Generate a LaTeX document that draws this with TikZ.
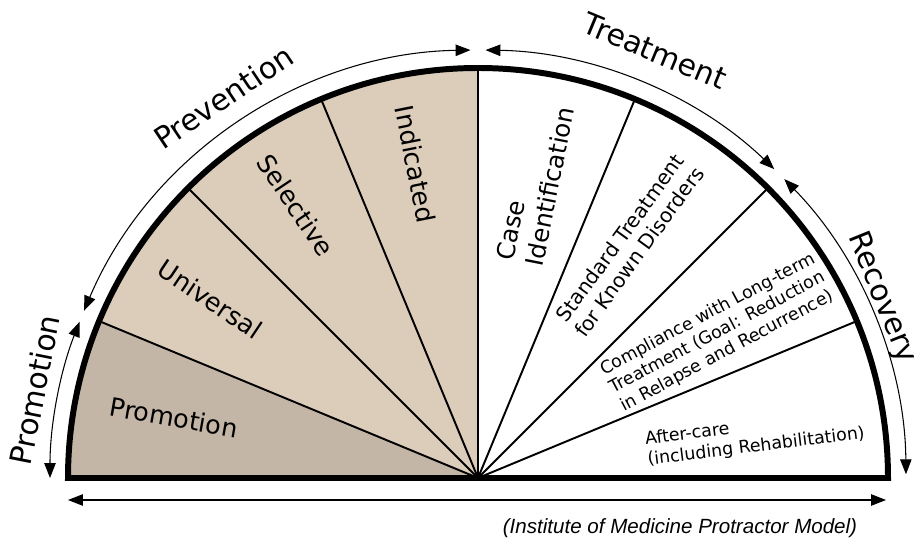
\documentclass[tikz,border=0pt]{standalone}
\usepackage{fontspec}
\setmainfont{DejaVu Sans}
\newfontfamily\capfont{Liberation Sans}
\usetikzlibrary{arrows.meta}

\definecolor{promofill}{RGB}{196,182,166}
\definecolor{prevfill}{RGB}{220,205,187}

\tikzset{
	sector/.style={font=\fontsize{14.5}{17}\selectfont},
	small sector/.style={font=\fontsize{11.5}{13.5}\selectfont, align=center},
	tiny sector/.style={font=\fontsize{9.9}{11.8}\selectfont, align=center},
	phase/.style={font=\fontsize{17}{20}\selectfont},
	span/.style={line width=0.6pt, {Triangle[length=8.5pt,width=6.5pt]}-{Triangle[length=8.5pt,width=6.5pt]}},
}

\begin{document}
\begin{tikzpicture}[x=0.2mm,y=0.2mm]
			\useasboundingbox (-478,-64) rectangle (436,478);
			
			\fill[promofill] (0,0) -- (180:410) arc (180:157.5:410) -- cycle;
			\fill[prevfill] (0,0) -- (157.5:410) arc (157.5:90:410) -- cycle;
			\foreach \a in {22.5,45,...,157.5}
				\draw[line width=1.1pt] (0,0) -- (\a:410);
			\draw[line width=3.4pt] (-410,0) arc (180:0:410) -- cycle;
			
			\node (promo) [sector, rotate=-10] at (168.75:310) {Promotion};
			\node (univ) [sector, rotate=-33.75] at (146.25:322) {Universal};
			\node (sel) [sector, rotate=-56.25] at (123.75:328) {Selective};
			\node (ind) [sector, rotate=-78.75] at (101.25:320) {Indicated};
			\node (case) [sector, font=\fontsize{14}{17}\selectfont, align=left, rotate=78.75] at (79:300) {Case\\Identification};
			\node (std) [small sector, rotate=54] at (57:278) {Standard Treatment\\for Known Disorders};
			\node (comp) [tiny sector, rotate=28] at (31.2:280) {Compliance with Long-term\\Treatment (Goal: Reduction\\in Relapse and Recurrence)};
			\node (after) [tiny sector, align=left, rotate=7] at (8.5:280) {After-care\\(including Rehabilitation)};
			
			\node (promotion) [phase, rotate=78.75] at (168.75:452) {Promotion};
			\node (prevention) [phase, rotate=33.75] at (123.75:458) {Prevention};
			\node (treatment) [phase, rotate=-22.5] at (67.5:462) {Treatment};
			\node (recovery) [phase, rotate=-68] at (24:442) {Recovery};
			
			\draw[span] (180:428) arc (180:158.6:428);
			\draw[span] (157:428) arc (157:91:428);
			\draw[span] (89:428) arc (89:46.2:428);
			\draw[span] (44.3:428) arc (44.3:0.5:428);
			
			\coordinate (left end) at (-410,-22);
			\coordinate (right end) at (408,-22);
			\draw[span] (left end) -- (right end);
			
			\node (model) at (202,-50) {\capfont\itshape\fontsize{11.7}{13}\selectfont (Institute of Medicine Protractor Model)};
			\end{tikzpicture}
\end{document}
